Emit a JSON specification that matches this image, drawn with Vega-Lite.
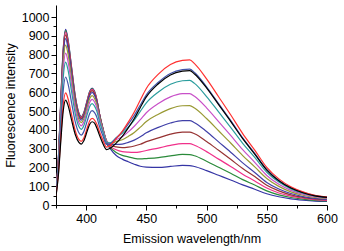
{
  "$schema": "https://vega.github.io/schema/vega-lite/v6.json",
  "width": 271,
  "height": 200,
  "autosize": "none",
  "padding": {"left": 56, "top": 5, "right": 17, "bottom": 46},
  "background": "white",
  "config": {
    "view": {"stroke": null},
    "font": "Liberation Sans",
    "axis": {
      "grid": false,
      "domainColor": "black",
      "tickColor": "black",
      "labelColor": "black",
      "titleColor": "black",
      "labelFont": "Liberation Sans",
      "titleFont": "Liberation Sans",
      "labelFontSize": 12.5,
      "titleFontSize": 12.5,
      "titleFontWeight": "normal"
    }
  },
  "data": {
    "values": [
      {"wl": 375, "c01": 70, "c02": 70, "c03": 69, "c04": 68, "c05": 67, "c06": 64, "c07": 62, "c08": 58, "c09": 53, "c10": 48, "c11": 45},
      {"wl": 377, "c01": 250, "c02": 249, "c03": 247, "c04": 243, "c05": 238, "c06": 230, "c07": 220, "c08": 208, "c09": 189, "c10": 169, "c11": 160},
      {"wl": 379, "c01": 560, "c02": 556, "c03": 552, "c04": 543, "c05": 531, "c06": 511, "c07": 486, "c08": 458, "c09": 412, "c10": 362, "c11": 340},
      {"wl": 381, "c01": 830, "c02": 825, "c03": 818, "c04": 805, "c05": 787, "c06": 757, "c07": 719, "c08": 677, "c09": 608, "c10": 533, "c11": 500},
      {"wl": 383, "c01": 934, "c02": 928, "c03": 920, "c04": 905, "c05": 885, "c06": 851, "c07": 808, "c08": 760, "c09": 681, "c10": 596, "c11": 558},
      {"wl": 385, "c01": 880, "c02": 874, "c03": 867, "c04": 853, "c05": 834, "c06": 803, "c07": 763, "c08": 718, "c09": 644, "c10": 565, "c11": 530},
      {"wl": 388, "c01": 730, "c02": 726, "c03": 720, "c04": 708, "c05": 694, "c06": 668, "c07": 636, "c08": 600, "c09": 542, "c10": 478, "c11": 450},
      {"wl": 391, "c01": 580, "c02": 577, "c03": 572, "c04": 564, "c05": 553, "c06": 535, "c07": 511, "c08": 485, "c09": 442, "c10": 396, "c11": 375},
      {"wl": 394, "c01": 490, "c02": 487, "c03": 484, "c04": 478, "c05": 470, "c06": 455, "c07": 437, "c08": 417, "c09": 384, "c10": 349, "c11": 333},
      {"wl": 396, "c01": 470, "c02": 468, "c03": 465, "c04": 459, "c05": 451, "c06": 438, "c07": 421, "c08": 402, "c09": 372, "c10": 339, "c11": 324},
      {"wl": 398, "c01": 490, "c02": 488, "c03": 484, "c04": 478, "c05": 471, "c06": 457, "c07": 440, "c08": 421, "c09": 389, "c10": 355, "c11": 340},
      {"wl": 401, "c01": 560, "c02": 557, "c03": 554, "c04": 547, "c05": 539, "c06": 524, "c07": 505, "c08": 484, "c09": 449, "c10": 412, "c11": 395},
      {"wl": 403, "c01": 605, "c02": 602, "c03": 599, "c04": 592, "c05": 582, "c06": 566, "c07": 546, "c08": 524, "c09": 487, "c10": 448, "c11": 430},
      {"wl": 405, "c01": 622, "c02": 619, "c03": 615, "c04": 608, "c05": 599, "c06": 582, "c07": 562, "c08": 539, "c09": 502, "c10": 461, "c11": 443},
      {"wl": 407, "c01": 605, "c02": 602, "c03": 599, "c04": 592, "c05": 583, "c06": 567, "c07": 548, "c08": 526, "c09": 491, "c10": 452, "c11": 435},
      {"wl": 409, "c01": 558, "c02": 557, "c03": 557, "c04": 552, "c05": 546, "c06": 533, "c07": 516, "c08": 497, "c09": 465, "c10": 428, "c11": 408},
      {"wl": 411, "c01": 487, "c02": 488, "c03": 489, "c04": 487, "c05": 482, "c06": 474, "c07": 461, "c08": 447, "c09": 420, "c10": 391, "c11": 373},
      {"wl": 414, "c01": 398, "c02": 402, "c03": 405, "c04": 407, "c05": 406, "c06": 403, "c07": 396, "c08": 387, "c09": 367, "c10": 344, "c11": 326},
      {"wl": 417, "c01": 330, "c02": 334, "c03": 337, "c04": 340, "c05": 341, "c06": 341, "c07": 338, "c08": 334, "c09": 322, "c10": 308, "c11": 295},
      {"wl": 420, "c01": 300, "c02": 306, "c03": 312, "c04": 318, "c05": 322, "c06": 327, "c07": 329, "c08": 331, "c09": 326, "c10": 318, "c11": 302},
      {"wl": 425, "c01": 263, "c02": 279, "c03": 294, "c04": 309, "c05": 322, "c06": 338, "c07": 348, "c08": 357, "c09": 358, "c10": 353, "c11": 329},
      {"wl": 430, "c01": 244, "c02": 264, "c03": 284, "c04": 305, "c05": 324, "c06": 347, "c07": 363, "c08": 381, "c09": 389, "c10": 392, "c11": 365},
      {"wl": 435, "c01": 230, "c02": 256, "c03": 281, "c04": 308, "c05": 333, "c06": 365, "c07": 389, "c08": 414, "c09": 430, "c10": 441, "c11": 410},
      {"wl": 440, "c01": 217, "c02": 248, "c03": 280, "c04": 314, "c05": 345, "c06": 386, "c07": 419, "c08": 452, "c09": 477, "c10": 495, "c11": 460},
      {"wl": 445, "c01": 206, "c02": 245, "c03": 283, "c04": 323, "c05": 363, "c06": 414, "c07": 454, "c08": 498, "c09": 532, "c10": 559, "c11": 519},
      {"wl": 450, "c01": 202, "c02": 247, "c03": 290, "c04": 337, "c05": 384, "c06": 444, "c07": 491, "c08": 543, "c09": 586, "c10": 620, "c11": 575},
      {"wl": 460, "c01": 200, "c02": 252, "c03": 303, "c04": 357, "c05": 413, "c06": 483, "c07": 540, "c08": 601, "c09": 653, "c10": 696, "c11": 645},
      {"wl": 470, "c01": 205, "c02": 261, "c03": 317, "c04": 377, "c05": 436, "c06": 513, "c07": 575, "c08": 642, "c09": 700, "c10": 747, "c11": 692},
      {"wl": 480, "c01": 211, "c02": 269, "c03": 326, "c04": 388, "c05": 449, "c06": 528, "c07": 592, "c08": 661, "c09": 720, "c10": 769, "c11": 712},
      {"wl": 486, "c01": 210, "c02": 268, "c03": 326, "c04": 388, "c05": 449, "c06": 529, "c07": 593, "c08": 663, "c09": 723, "c10": 772, "c11": 715},
      {"wl": 490, "c01": 205, "c02": 262, "c03": 318, "c04": 379, "c05": 438, "c06": 516, "c07": 578, "c08": 647, "c09": 705, "c10": 752, "c11": 697},
      {"wl": 500, "c01": 183, "c02": 233, "c03": 284, "c04": 338, "c05": 391, "c06": 460, "c07": 517, "c08": 577, "c09": 629, "c10": 671, "c11": 623},
      {"wl": 510, "c01": 158, "c02": 201, "c03": 244, "c04": 291, "c05": 336, "c06": 395, "c07": 444, "c08": 495, "c09": 539, "c10": 576, "c11": 534},
      {"wl": 520, "c01": 133, "c02": 169, "c03": 205, "c04": 243, "c05": 281, "c06": 330, "c07": 370, "c08": 413, "c09": 450, "c10": 480, "c11": 445},
      {"wl": 530, "c01": 107, "c02": 135, "c03": 164, "c04": 194, "c05": 224, "c06": 263, "c07": 295, "c08": 328, "c09": 357, "c10": 380, "c11": 353},
      {"wl": 540, "c01": 84, "c02": 106, "c03": 128, "c04": 151, "c05": 173, "c06": 203, "c07": 227, "c08": 253, "c09": 275, "c10": 292, "c11": 271},
      {"wl": 550, "c01": 60, "c02": 75, "c03": 90, "c04": 105, "c05": 120, "c06": 141, "c07": 157, "c08": 174, "c09": 189, "c10": 200, "c11": 186},
      {"wl": 560, "c01": 44, "c02": 54, "c03": 64, "c04": 75, "c05": 85, "c06": 99, "c07": 110, "c08": 122, "c09": 131, "c10": 139, "c11": 129},
      {"wl": 570, "c01": 33, "c02": 40, "c03": 47, "c04": 54, "c05": 61, "c06": 70, "c07": 78, "c08": 86, "c09": 92, "c10": 97, "c11": 90},
      {"wl": 580, "c01": 26, "c02": 31, "c03": 36, "c04": 41, "c05": 45, "c06": 52, "c07": 58, "c08": 63, "c09": 67, "c10": 70, "c11": 65},
      {"wl": 590, "c01": 21, "c02": 25, "c03": 29, "c04": 32, "c05": 35, "c06": 40, "c07": 44, "c08": 48, "c09": 50, "c10": 52, "c11": 49},
      {"wl": 600, "c01": 19, "c02": 22, "c03": 25, "c04": 28, "c05": 30, "c06": 34, "c07": 37, "c08": 40, "c09": 42, "c10": 43, "c11": 41}
    ]
  },
  "transform": [
    {"fold": ["c01", "c02", "c03", "c04", "c05", "c06", "c07", "c08", "c09", "c10", "c11"], "as": ["series", "intensity"]}
  ],
  "mark": {"type": "line", "strokeWidth": 1.2, "interpolate": "monotone", "clip": true},
  "encoding": {
    "x": {
      "field": "wl",
      "type": "quantitative",
      "scale": {"domain": [375, 600], "nice": false, "zero": false},
      "axis": {
        "title": "Emission wavelength/nm",
        "values": [375, 400, 425, 450, 475, 500, 525, 550, 575, 600],
        "format": "d",
        "labelExpr": "datum.value % 50 === 0 ? datum.label : ''",
        "tickSize": {"condition": {"test": "datum.value % 50 === 0", "value": 5}, "value": 3},
        "labelPadding": 2,
        "titlePadding": 8,
        "labelFlush": false,
        "labelOverlap": false
      }
    },
    "y": {
      "field": "intensity",
      "type": "quantitative",
      "scale": {"domain": [0, 1064], "nice": false},
      "axis": {
        "title": "Fluorescence intensity",
        "values": [0, 50, 100, 150, 200, 250, 300, 350, 400, 450, 500, 550, 600, 650, 700, 750, 800, 850, 900, 950, 1000],
        "format": "d",
        "labelExpr": "datum.value % 100 === 0 ? datum.label : ''",
        "tickSize": {"condition": {"test": "datum.value % 100 === 0", "value": 5}, "value": 3},
        "labelPadding": 2,
        "titlePadding": 4,
        "labelFlush": false,
        "labelOverlap": false
      }
    },
    "color": {
      "field": "series",
      "type": "nominal",
      "legend": null,
      "scale": {
        "domain": ["c01", "c02", "c03", "c04", "c05", "c06", "c07", "c08", "c09", "c10", "c11"],
        "range": ["#3535A5", "#2A8A3A", "#F0308A", "#963232", "#4040A8", "#999933", "#C850C8", "#2A9D9D", "#4455AA", "#FF3030", "#000000"]
      }
    },
    "order": {"field": "series", "sort": "descending"}
  }
}
